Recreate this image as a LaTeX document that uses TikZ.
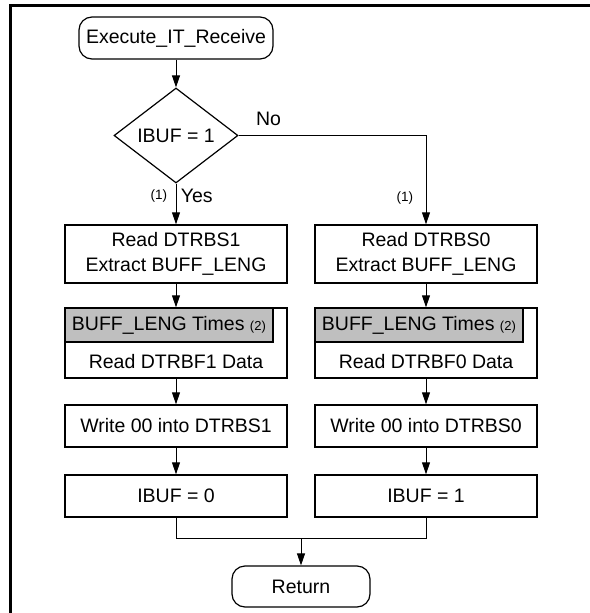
\documentclass[tikz,border=0pt]{standalone}
\usepackage{fontspec}
\setmainfont{Liberation Sans}
\usepackage{tikz}
\usetikzlibrary{arrows.meta,shapes.geometric,positioning}

\tikzset{
  box/.style={draw,line width=1.4pt,minimum width=222pt,align=center,inner sep=0pt},
  term/.style={draw,line width=1.2pt,rounded corners=13pt,inner sep=0pt},
  cond/.style={draw,line width=1.2pt,diamond,aspect=1.3,minimum width=124pt,minimum height=95pt,inner sep=0pt},
  hdr/.style={draw,line width=1.2pt,fill=gray!50,minimum width=208pt,minimum height=34pt,inner sep=0pt,anchor=north west},
  arr/.style={line width=1pt,-{Triangle[length=12pt,width=8pt]}},
  ln/.style={line width=1pt},
  note/.style={font=\fontsize{13.5}{15}\selectfont}
}

\begin{document}
\begin{tikzpicture}[x=1pt,y=-1pt,font=\fontsize{19.5}{25}\selectfont]
    \useasboundingbox (0,0) rectangle (589,613);
    \draw[line width=3pt] (10,5.5) rectangle (640,660);

    % start and test
    \node[term,minimum width=194pt,minimum height=42pt] (start) at (176,38) {Execute\_IT\_Receive};
    \node[cond] (test) at (176,135.5) {IBUF = 1};

    % left branch
    \node[box,minimum height=58pt] (rd1) at (176,254) {Read DTRBS1\\Extract BUFF\_LENG};
    \node[box,minimum height=70pt] (loop1) at (176,343) {};
    \node[hdr] (hd1) at (loop1.north west) {BUFF\_LENG Times {\fontsize{13}{14}\selectfont(2)}};
    \node (dat1) at (176,362) {Read DTRBF1 Data};
    \node[box,minimum height=42pt] (wr1) at (176,426) {Write 00 into DTRBS1};
    \node[box,minimum height=42pt] (set1) at (176,496) {IBUF = 0};

    % right branch
    \node[box,minimum height=58pt] (rd0) at (426,254) {Read DTRBS0\\Extract BUFF\_LENG};
    \node[box,minimum height=70pt] (loop0) at (426,343) {};
    \node[hdr] (hd0) at (loop0.north west) {BUFF\_LENG Times {\fontsize{13}{14}\selectfont(2)}};
    \node (dat0) at (426,362) {Read DTRBF0 Data};
    \node[box,minimum height=42pt] (wr0) at (426,426) {Write 00 into DTRBS0};
    \node[box,minimum height=42pt] (set0) at (426,496) {IBUF = 1};

    % end
    \coordinate (join) at (301,538);
    \node[term,minimum width=138pt,minimum height=41pt] (ret) at (301,586.5) {Return};

    \draw[arr] (start) -- (test);
    \draw[arr] (test.south) -- (rd1.north)
        node[pos=0.3,left=5pt,note] {(1)}
        node[pos=0.3,right=1pt] {Yes};
    \draw[arr] (test.east) -| (rd0.north)
        node[pos=0.08,above=6pt] {No}
        node[pos=0.85,left=9pt,note] {(1)};
    \draw[arr] (rd1) -- (loop1);
    \draw[arr] (loop1) -- (wr1);
    \draw[arr] (wr1) -- (set1);
    \draw[arr] (rd0) -- (loop0);
    \draw[arr] (loop0) -- (wr0);
    \draw[arr] (wr0) -- (set0);
    \draw[ln] (set1.south) |- (set0.south |- join) -- (set0.south);
    \draw[arr] (join) -- (ret);
\end{tikzpicture}
\end{document}
